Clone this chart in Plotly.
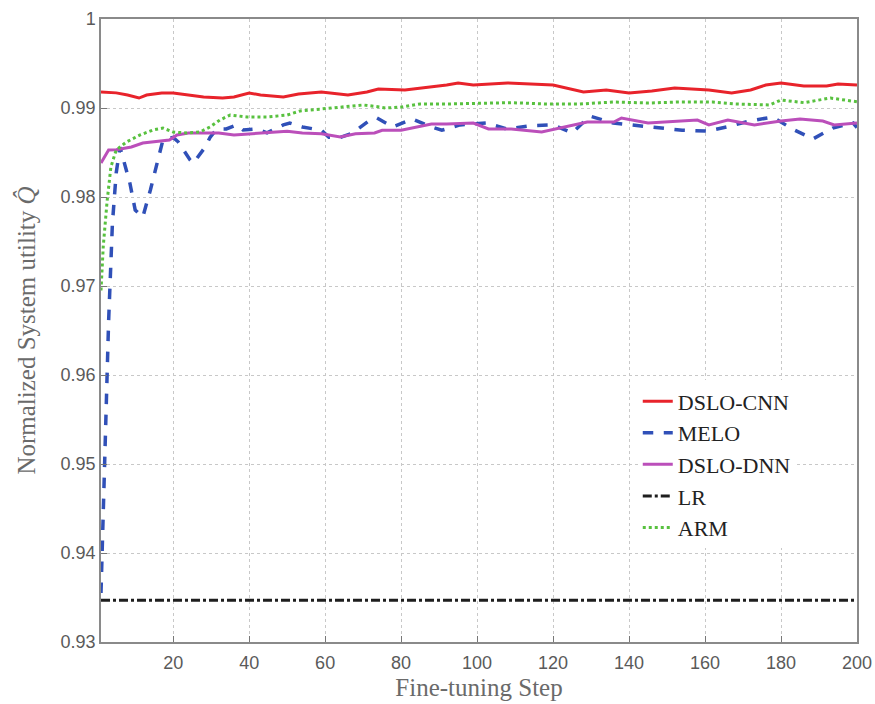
import plotly.graph_objects as go

# ---- data ----
cnn_x = [1, 5, 8, 11, 13, 17, 20, 24, 28, 33, 36, 40, 43, 49, 53, 59, 66, 71, 74, 81, 86, 92, 95, 99,
         108, 117, 120, 128, 134, 140, 146, 152, 156, 161, 167, 172, 176, 180, 186, 192, 195, 200]
cnn_y = [0.9918, 0.9917, 0.99146, 0.99112, 0.99146, 0.99169, 0.99169, 0.99146, 0.99124, 0.99112,
         0.99124, 0.99169, 0.99146, 0.99124, 0.99157, 0.9918, 0.99146, 0.9918, 0.99213, 0.99202,
         0.99225, 0.99258, 0.99281, 0.99258, 0.99281, 0.99258, 0.99258, 0.9918, 0.99202, 0.99169,
         0.99191, 0.99225, 0.99213, 0.99202, 0.99169, 0.99202, 0.99258, 0.99281, 0.99247, 0.99247,
         0.9927, 0.99258]

melo_x = [1, 2, 3, 4, 5, 6, 8.6, 10, 12, 14, 15.6, 17.3, 20, 21.3, 24.4, 25.3, 28.4, 29.7, 31.5, 34,
          36.7, 38.4, 42, 44.7, 49, 50.7, 54, 59, 61, 64, 67.3, 71.8, 73.6, 77.8, 83, 88, 90.7, 95.5,
          102.5, 107.8, 113.9, 120, 125, 129.7, 135.8, 140.7, 147, 154, 160.5, 165.7, 171.8, 177.8,
          183, 188.4, 193.6, 199, 200]
melo_y = [0.9355, 0.952, 0.966, 0.977, 0.9827, 0.9856, 0.98157, 0.97854, 0.97775, 0.98079, 0.9834,
          0.9864, 0.9867, 0.9862, 0.9842, 0.9838, 0.9856, 0.9867, 0.98764, 0.98764, 0.9881, 0.98753,
          0.98764, 0.9872, 0.9881, 0.98831, 0.98787, 0.9875, 0.9867, 0.9867, 0.9872, 0.98865,
          0.98888, 0.98787, 0.98876, 0.98787, 0.9875, 0.9881, 0.98831, 0.98764, 0.988, 0.9881,
          0.9872, 0.9891, 0.98831, 0.9881, 0.98787, 0.9875, 0.9874, 0.98787, 0.98854, 0.98899,
          0.98764, 0.98652, 0.98775, 0.98831, 0.9878]

dnn_x = [1, 3, 5, 9, 12, 16, 19, 21, 24, 28, 32, 36, 40, 46, 50, 54, 59, 64, 68, 73, 75, 80, 88, 92,
         99, 103, 109, 117, 122, 129, 136, 138, 145, 151, 158, 161, 166, 173, 180, 185, 191, 194, 200]
dnn_y = [0.98382, 0.98528, 0.9853, 0.98562, 0.98607, 0.9863, 0.9864, 0.98697, 0.98719, 0.9872,
         0.9872, 0.98697, 0.9871, 0.9873, 0.9874, 0.9872, 0.9871, 0.98674, 0.9871, 0.9872, 0.9875,
         0.9875, 0.9882, 0.9882, 0.98831, 0.98764, 0.98764, 0.9873, 0.98775, 0.98843, 0.98843,
         0.98888, 0.98831, 0.98843, 0.98865, 0.9881, 0.98865, 0.9881, 0.98854, 0.98876, 0.98854,
         0.9881, 0.98831]

lr_x = [1, 200]
lr_y = [0.9347, 0.9347]

arm_x = [1, 1.6, 2.6, 3.6, 5, 7.7, 11.3, 14.7, 17.3, 20, 23.6, 27, 29.7, 32.3, 35, 39.4, 44.7, 50,
         53.4, 59.4, 64.7, 70, 74.4, 76, 80, 85, 92, 101, 109, 118, 127, 136, 145, 153, 162, 168,
         177, 180, 186, 193, 200]
arm_y = [0.9695, 0.9745, 0.9795, 0.98337, 0.98528, 0.98618, 0.98697, 0.98753, 0.98775, 0.9873,
         0.98719, 0.9873, 0.98787, 0.98865, 0.98921, 0.98899, 0.98899, 0.98921, 0.98966, 0.98989,
         0.99011, 0.99034, 0.99011, 0.99, 0.9901, 0.99045, 0.99045, 0.99056, 0.9906, 0.99045,
         0.99045, 0.99067, 0.99056, 0.99067, 0.99067, 0.99045, 0.99034, 0.9909, 0.9906, 0.99112,
         0.9907]

x_ticks = [20, 40, 60, 80, 100, 120, 140, 160, 180, 200]
y_ticks = [0.93, 0.94, 0.95, 0.96, 0.97, 0.98, 0.99, 1.0]
y_ticktext = ["0.93", "0.94", "0.95", "0.96", "0.97", "0.98", "0.99", "1"]

fig = go.Figure()
fig.add_trace(go.Scatter(x=cnn_x, y=cnn_y, mode="lines", name="DSLO-CNN",
                         line=dict(color="#e8232b", width=3)))
fig.add_trace(go.Scatter(x=melo_x, y=melo_y, mode="lines", name="MELO",
                         line=dict(color="#3050b8", width=3.5, dash="dash")))
fig.add_trace(go.Scatter(x=dnn_x, y=dnn_y, mode="lines", name="DSLO-DNN",
                         line=dict(color="#bb4fba", width=3)))
fig.add_trace(go.Scatter(x=lr_x, y=lr_y, mode="lines", name="LR",
                         line=dict(color="#1e1e1e", width=3, dash="dashdot")))
fig.add_trace(go.Scatter(x=arm_x, y=arm_y, mode="lines", name="ARM",
                         line=dict(color="#58c13f", width=3, dash="dot")))

axis_common = dict(showline=True, linecolor="#8a8a8a", linewidth=1.5, mirror=True,
                   ticks="inside", ticklen=6, tickcolor="#777",
                   showgrid=True, gridcolor="#c8c8c8", griddash="dot", gridwidth=1,
                   zeroline=False, automargin=False, ticklabeloverflow="allow",
                   tickfont=dict(family="Liberation Sans, Arial", size=18, color="#5a5a5a"))

title_font = dict(family="Liberation Serif, Times New Roman", size=25, color="#6a6a6a")

fig.update_xaxes(range=[1, 200], tickvals=x_ticks, ticklabelstandoff=4,
                 title=dict(text="Fine-tuning Step", standoff=6, font=title_font),
                 **axis_common)
fig.update_yaxes(range=[0.93, 1.0], tickvals=y_ticks, ticktext=y_ticktext,
                 title=dict(text="Normalized System utility <i>Q\u0302</i>", standoff=18, font=title_font),
                 **axis_common)

fig.update_layout(
    width=875, height=704,
    margin=dict(l=101, r=18, t=19, b=62),
    paper_bgcolor="white", plot_bgcolor="white",
    showlegend=True,
    legend=dict(x=0.71, y=0.42, xanchor="left", yanchor="top",
                bgcolor="white", borderwidth=0,
                font=dict(family="Liberation Serif, Times New Roman", size=22, color="#222"),
                tracegroupgap=0),
)

fig.write_html("out.html")
